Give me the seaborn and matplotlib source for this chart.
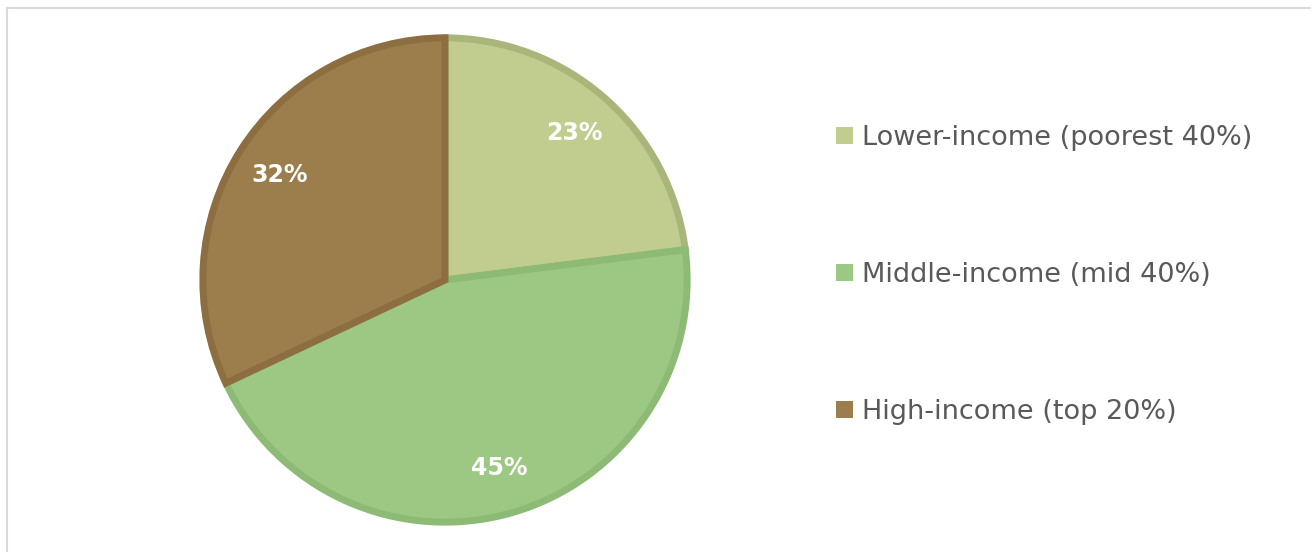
import matplotlib
matplotlib.use('Agg')
import matplotlib.pyplot as plt
from matplotlib.lines import Line2D
from matplotlib.patches import Patch
import seaborn as sns

# data
categories = ['Lower-income (poorest 40%)', 'Middle-income (mid 40%)', 'High-income (top 20%)']
shares     = [23, 45, 32]
fills      = ['#C0CD8E', '#9DC883', '#9C7D4C']
edges      = ['#A9B67B', '#8DBA75', '#8C6E40']

sns.set_theme(style='white')
plt.rcParams['font.family'] = ['DejaVu Sans']

W, H = 1313, 552
fig = plt.figure(figsize=(W / 100, H / 100), dpi=100)

# pie axes: centre (445, 280), radius 247 px
cx, cy, r = 445, 280, 247
ax = fig.add_axes([(cx - r) / W, (H - cy - r) / H, 2 * r / W, 2 * r / H])

wedges, texts, autotexts = ax.pie(
    shares, colors=fills, startangle=90, counterclock=False,
    autopct='%1.0f%%', pctdistance=0.81,
    wedgeprops=dict(linewidth=5),
    textprops=dict(color='white', fontsize=17, fontweight='bold'))
for w, ec in zip(wedges, edges):
    w.set_edgecolor(ec)
    w.set_joinstyle('miter')
ax.set_aspect('equal')
ax.set_xlim(-1.02, 1.02)
ax.set_ylim(-1.02, 1.02)

# legend
handles = [Patch(facecolor=f, edgecolor='none') for f in fills]
fig.legend(handles, categories, loc='center left',
           bbox_to_anchor=(836 / W, 1 - 275 / H),
           frameon=False, fontsize=19.5, labelcolor='#595959',
           handlelength=0.62, handleheight=0.62, handletextpad=0.33,
           borderpad=0, borderaxespad=0, labelspacing=4.1)

# outer border (top and left)
fig.add_artist(Line2D([7 / W, 1310 / W], [1 - 8 / H, 1 - 8 / H], color='#DADADA', lw=1.5))
fig.add_artist(Line2D([7 / W, 7 / W], [0, 1 - 8 / H], color='#DADADA', lw=1.5))

fig.savefig('out.png', dpi=100, facecolor='white')
